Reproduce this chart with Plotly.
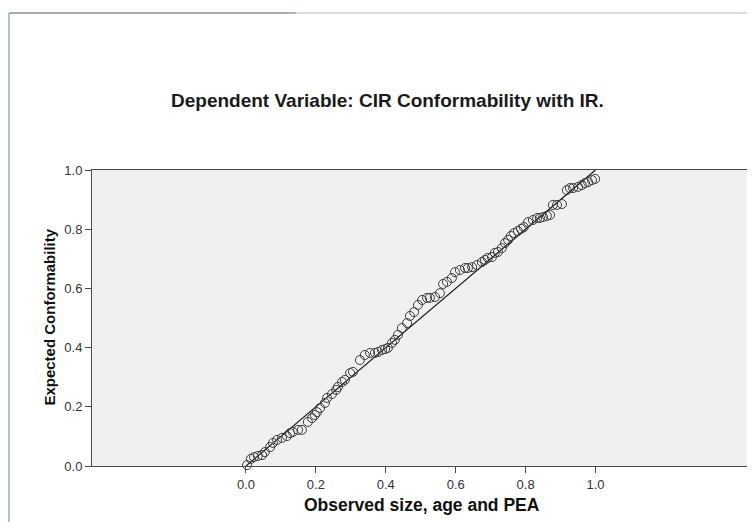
import plotly.graph_objects as go

# Observed cumulative probability (x) and expected cumulative probability (y)
observed = [0.003, 0.014, 0.023, 0.034, 0.046, 0.054, 0.069, 0.077, 0.089, 0.103,
            0.117, 0.126, 0.134, 0.149, 0.160, 0.177, 0.189, 0.197, 0.203, 0.212,
            0.226, 0.232, 0.246, 0.258, 0.263, 0.275, 0.283, 0.298, 0.306, 0.326,
            0.340, 0.355, 0.369, 0.378, 0.389, 0.398, 0.406, 0.418, 0.426, 0.435,
            0.446, 0.461, 0.469, 0.481, 0.492, 0.504, 0.518, 0.526, 0.541, 0.555,
            0.564, 0.575, 0.589, 0.598, 0.612, 0.627, 0.635, 0.647, 0.661, 0.675,
            0.684, 0.692, 0.704, 0.712, 0.721, 0.732, 0.741, 0.750, 0.758, 0.767,
            0.778, 0.787, 0.795, 0.807, 0.821, 0.833, 0.841, 0.850, 0.861, 0.870,
            0.878, 0.890, 0.904, 0.918, 0.927, 0.936, 0.950, 0.961, 0.970, 0.979,
            0.990, 0.999]
expected = [0.003, 0.024, 0.030, 0.034, 0.037, 0.047, 0.064, 0.078, 0.088, 0.095,
            0.101, 0.111, 0.115, 0.122, 0.122, 0.149, 0.162, 0.172, 0.182, 0.196,
            0.213, 0.230, 0.243, 0.257, 0.267, 0.284, 0.291, 0.314, 0.318, 0.358,
            0.375, 0.382, 0.382, 0.385, 0.392, 0.395, 0.399, 0.416, 0.426, 0.443,
            0.466, 0.483, 0.507, 0.520, 0.544, 0.561, 0.568, 0.568, 0.571, 0.584,
            0.615, 0.622, 0.635, 0.655, 0.662, 0.669, 0.669, 0.672, 0.679, 0.689,
            0.696, 0.703, 0.706, 0.720, 0.723, 0.736, 0.753, 0.764, 0.777, 0.787,
            0.794, 0.801, 0.807, 0.824, 0.831, 0.838, 0.838, 0.841, 0.845, 0.848,
            0.882, 0.882, 0.885, 0.932, 0.939, 0.939, 0.943, 0.949, 0.956, 0.959,
            0.966, 0.970]

ref_x = [0.0, 1.0]
ref_y = [0.0, 1.0]

tick_vals = [0.0, 0.2, 0.4, 0.6, 0.8, 1.0]
tick_text = ["0.0", "0.2", "0.4", "0.6", "0.8", "1.0"]

title_text = "Dependent Variable: CIR Conformability with IR."
x_title = "Observed size, age and PEA"
y_title = "Expected Conformability"

FONT = "Liberation Sans, Arial, sans-serif"

fig = go.Figure()
fig.add_trace(go.Scatter(
    x=ref_x, y=ref_y, mode="lines",
    line=dict(color="#1a1a1a", width=1.2),
    hoverinfo="skip", showlegend=False))
fig.add_trace(go.Scatter(
    x=observed, y=expected, mode="markers",
    marker=dict(symbol="circle-open", size=9, color="#3c3c3c",
                line=dict(width=1, color="#3c3c3c")),
    showlegend=False, cliponaxis=False))

axis_common = dict(
    showgrid=False, zeroline=False, showline=True, mirror=True,
    linecolor="#4a4a4a", linewidth=1,
    ticks="outside", ticklen=6, tickcolor="#4a4a4a", tickwidth=1,
    tickvals=tick_vals, ticktext=tick_text,
    tickfont=dict(family=FONT, size=13, color="#333333"),
)

# the page body adds an 8px offset, so the figure is sized to fit the window
fig.update_layout(
    width=747, height=514,
    margin=dict(l=84, r=4, t=162, b=56),
    paper_bgcolor="white", plot_bgcolor="#f0f0f0",
    xaxis=dict(range=[-0.4406, 1.445], **axis_common),
    yaxis=dict(range=[0, 1], **axis_common),
    font=dict(family=FONT),
    annotations=[
        dict(text="<b>" + title_text + "</b>", xref="paper", yref="paper",
             x=0.448, y=1.236, xanchor="center", yanchor="middle",
             showarrow=False, font=dict(family=FONT, size=19, color="#1a1a1a")),
        dict(text="<b>" + x_title + "</b>", xref="paper", yref="paper",
             x=0.5, y=-0.132, xanchor="center", yanchor="middle",
             showarrow=False, font=dict(family=FONT, size=17.5, color="#111111")),
        dict(text="<b>" + y_title + "</b>", xref="paper", yref="paper",
             x=-0.065, y=0.502, xanchor="center", yanchor="middle", textangle=-90,
             showarrow=False, font=dict(family=FONT, size=15, color="#111111")),
    ],
    shapes=[
        dict(type="line", xref="paper", yref="paper",
             x0=-0.126, x1=0.309, y0=1.530, y1=1.530,
             line=dict(color="#8a949e", width=1.5)),
        dict(type="line", xref="paper", yref="paper",
             x0=0.309, x1=1.01, y0=1.530, y1=1.530,
             line=dict(color="#c8cfd6", width=1.5)),
        dict(type="line", xref="paper", yref="paper",
             x0=-0.126, x1=-0.126, y0=1.530, y1=-0.2,
             line=dict(color="#a3adb8", width=1.5)),
    ],
)

fig.write_html("out.html")
